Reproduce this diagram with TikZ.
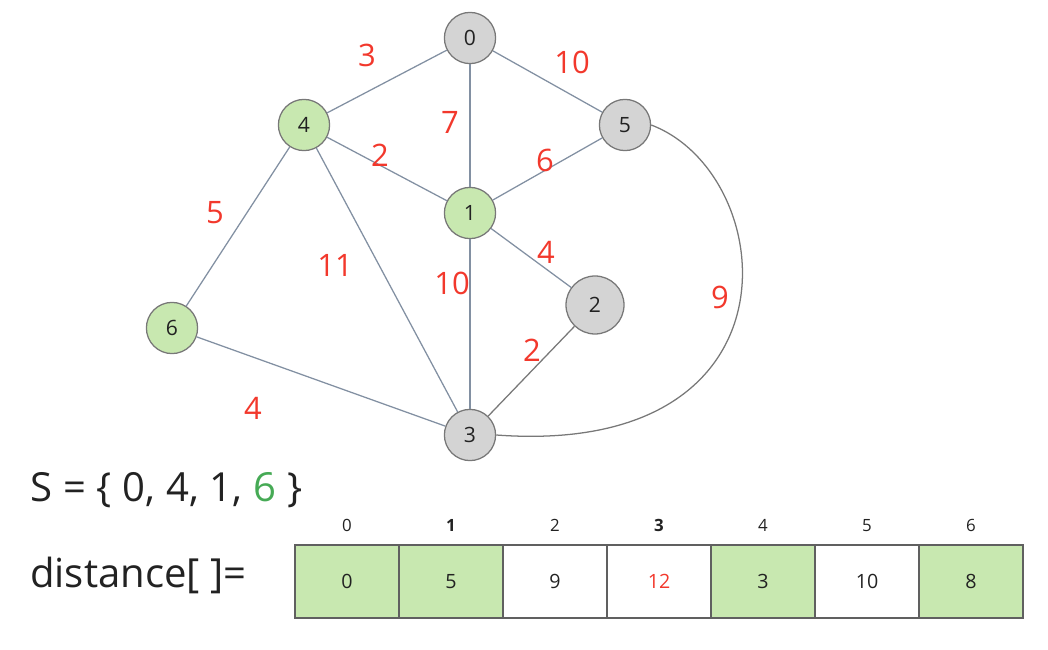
\documentclass[tikz,border=0pt]{standalone}
\usepackage{fontspec}
\setmainfont{Open Sans}
\usetikzlibrary{positioning}
\definecolor{nodegray}{RGB}{212,212,212}
\definecolor{rimgray}{RGB}{120,120,120}
\definecolor{donegreen}{RGB}{200,232,176}
\definecolor{edgeblue}{RGB}{130,144,162}
\definecolor{wtred}{RGB}{242,56,44}
\definecolor{setgreen}{RGB}{70,170,85}
\definecolor{ink}{RGB}{34,34,34}
\newcommand{\bigfont}{\fontsize{28.5}{33}\selectfont\spaceskip=0.27em\relax}

\begin{document}
\begin{tikzpicture}[
  vtx/.style={circle, draw=rimgray, fill=nodegray, line width=0.9pt, minimum size=1.28cm, inner sep=0pt, text=ink, font=\fontsize{15}{18}\selectfont},
  done/.style={vtx, fill=donegreen},
  wt/.style={text=wtred, inner sep=0pt, font=\fontsize{22}{26}\selectfont},
  edge/.style={draw=edgeblue, line width=0.9pt},
  big/.style={anchor=base west, inner sep=0pt, text=ink, font=\bigfont},
  cell/.style={draw=rimgray!80!black, line width=0.9pt, minimum width=2.6cm, minimum height=1.825cm, outer sep=0pt, inner sep=0pt, text=ink, font=\fontsize{14}{17}\selectfont},
  idx/.style={inner sep=0pt, text=ink, font=\fontsize{12}{14}\selectfont}]
  \useasboundingbox (0,0) rectangle (26.2,16.25);

  % vertices
  \node[vtx]  (0) at (11.75,15.3)   {0};
  \node[done] (4) at (7.6,13.125)   {4};
  \node[vtx]  (5) at (15.625,13.125) {5};
  \node[done] (1) at (11.75,10.925) {1};
  \node[vtx, minimum size=1.45cm] (2) at (14.875,8.625) {2};
  \node[done] (6) at (4.3,8.05)     {6};
  \node[vtx]  (3) at (11.75,5.375)  {3};

  % edges
  \draw[edge] (0)--(4);
  \draw[edge] (0)--(5);
  \draw[edge] (0)--(1);
  \draw[edge] (4)--(1);
  \draw[edge] (5)--(1);
  \draw[edge] (4)--(6);
  \draw[edge] (4)--(3);
  \draw[edge] (1)--(3);
  \draw[edge] (1)--(2);
  \draw[edge, draw=rimgray] (2)--(3);
  \draw[edge] (6)--(3);
  \draw[edge, draw=rimgray] (5.east) .. controls (19.5,11.9) and (20.2,4.8) .. (3.east);

  % weights
  \node[wt] (w04) at (9.175,14.875) {3};
  \node[wt] (w05) at (14.3,14.7)    {10};
  \node[wt] (w01) at (11.25,13.2)   {7};
  \node[wt] (w41) at (9.5,12.375)   {2};
  \node[wt] (w51) at (13.625,12.25) {6};
  \node[wt] (w46) at (5.375,10.925) {5};
  \node[wt] (w43) at (8.375,9.625)  {11};
  \node[wt] (w13) at (11.3,9.175)   {10};
  \node[wt] (w12) at (13.65,9.95)   {4};
  \node[wt] (w53) at (18.0,8.825)   {9};
  \node[wt] (w23) at (13.3,7.5)     {2};
  \node[wt] (w63) at (6.325,6.05)   {4};

  % set S and distance array
  \node[big] (S) at (0.75,3.7) {S = \{ 0, 4, 1, \textcolor{setgreen}{6} \}};
  \node[big] (dist) at (0.75,1.55) {distance[ ]=};

  \node[cell, fill=donegreen] (c0) at (8.675,1.7125) {0};
  \node[cell, fill=donegreen, right=0pt of c0] (c1) {5};
  \node[cell, right=0pt of c1] (c2) {9};
  \node[cell, right=0pt of c2, text=wtred] (c3) {12};
  \node[cell, fill=donegreen, right=0pt of c3] (c4) {3};
  \node[cell, right=0pt of c4] (c5) {10};
  \node[cell, fill=donegreen, right=0pt of c5] (c6) {8};

  \node[idx, above=0.33cm of c0] (i0) {0};
  \node[idx, above=0.33cm of c1] (i1) {\bfseries 1};
  \node[idx, above=0.33cm of c2] (i2) {2};
  \node[idx, above=0.33cm of c3] (i3) {\bfseries 3};
  \node[idx, above=0.33cm of c4] (i4) {4};
  \node[idx, above=0.33cm of c5] (i5) {5};
  \node[idx, above=0.33cm of c6] (i6) {6};
\end{tikzpicture}
\end{document}
